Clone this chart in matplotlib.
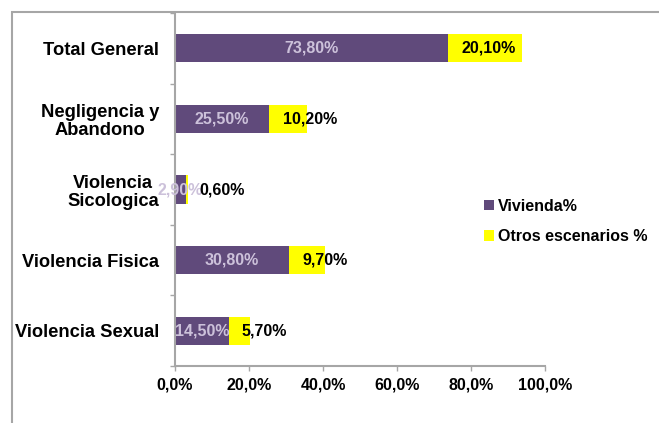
import matplotlib
matplotlib.use("Agg")
import matplotlib.pyplot as plt
from matplotlib.patches import Rectangle
import numpy as np

categories = ["Total General", "Negligencia y\nAbandono", "Violencia\nSicologica",
              "Violencia Fisica", "Violencia Sexual"]
vivienda = [73.8, 25.5, 2.9, 30.8, 14.5]
otros = [20.1, 10.2, 0.6, 9.7, 5.7]
series_names = ["Vivienda%", "Otros escenarios %"]
xticks = [0, 20, 40, 60, 80, 100]

PURPLE = "#604A7B"
YELLOW = "#FFFF00"
LAV = "#CCC1DA"
GRAY = "#A6A6A6"
FONT = "Liberation Sans"

W, H = 659, 423
fig = plt.figure(figsize=(W / 100, H / 100), dpi=100)
plt.rcParams["font.family"] = [FONT, "DejaVu Sans"]

# outer border (only left and top visible in reference)
fig.patches.append(Rectangle((12 / W, -0.1), 1.2, (H - 12) / H + 0.1, transform=fig.transFigure,
                             fill=False, edgecolor=GRAY, linewidth=1.5))

ax = fig.add_axes([175 / W, 1 - 366 / H, (545 - 175) / W, (366 - 13) / H])
y = np.arange(len(categories))
b1 = ax.barh(y, vivienda, height=0.4, color=PURPLE, label=series_names[0])
b2 = ax.barh(y, otros, left=vivienda, height=0.4, color=YELLOW, label=series_names[1])

ax.set_xlim(0, 100)
ax.set_ylim(len(categories) - 0.5, -0.5)

for yi, v, o in zip(y, vivienda, otros):
    ax.text(v / 2, yi, f"{v:.2f}%".replace(".", ","), ha="center", va="center",
            color=LAV, fontsize=11.5, fontweight="bold", clip_on=False)
    ax.annotate(f"{o:.2f}%".replace(".", ","), xy=(v, yi), xytext=(9.5, 0),
                textcoords="offset points", ha="left", va="center",
                color="black", fontsize=11.5, fontweight="bold")

ax.set_xticks(xticks)
ax.set_xticklabels([f"{t:.1f}%".replace(".", ",") for t in xticks],
                   fontsize=11.5, fontweight="bold")
ax.set_yticks(y)
ax.set_yticklabels(categories, fontsize=13.2, fontweight="bold")
for lab in ax.get_yticklabels():
    lab.set_multialignment("center")
    lab.set_linespacing(1.12)
ax.set_yticks(np.arange(len(categories) + 1) - 0.5, minor=True)
ax.tick_params(axis="y", which="major", length=0, pad=11.5)
ax.tick_params(axis="y", which="minor", length=3.6, color=GRAY, width=1)
ax.tick_params(axis="x", which="major", length=3.6, color=GRAY, width=1, pad=4.5)

for s in ["top", "right"]:
    ax.spines[s].set_visible(False)
for s in ["left", "bottom"]:
    ax.spines[s].set_color(GRAY)
    ax.spines[s].set_linewidth(1.5)

leg = ax.legend(loc="upper left", bbox_to_anchor=(484 / W, 1 - 199 / H),
                bbox_transform=fig.transFigure, frameon=False,
                prop={"family": FONT, "size": 11.5, "weight": "bold"},
                handlelength=0.6, handleheight=0.6, handletextpad=0.25,
                labelspacing=0.95, borderaxespad=0, borderpad=0)

fig.savefig("out.png", dpi=100)
